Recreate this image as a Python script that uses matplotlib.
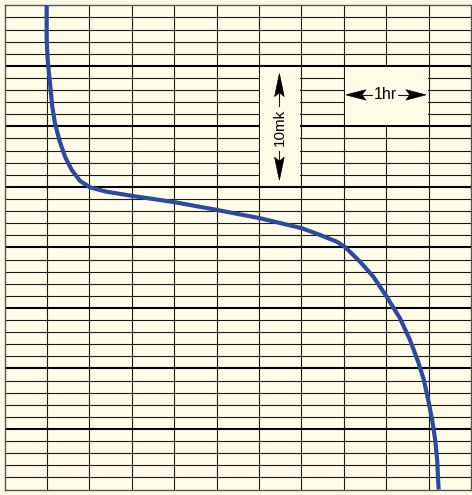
import matplotlib
matplotlib.use("Agg")
import matplotlib.pyplot as plt
from matplotlib.patches import Rectangle, Polygon

# curve: time (hr) vs temperature (mK)
time_hr = [0.495, 0.495, 0.507, 0.522, 0.542, 0.561, 0.593, 0.644, 0.711, 0.790,
           0.888, 1.006, 1.195, 1.498, 2.000, 2.500, 3.011, 3.502, 3.718, 3.915,
           4.013, 4.190, 4.347, 4.505, 4.662, 4.780, 4.877, 4.944, 4.995, 5.042,
           5.078, 5.101, 5.118]
temp_mk = [40.0, 37.15, 35.50, 34.40, 33.02, 31.64, 30.26, 28.88, 27.50, 26.40,
           25.50, 24.96, 24.61, 24.26, 23.74, 23.10, 22.41, 21.59, 21.03, 20.48,
           20.04, 18.83, 17.59, 15.93, 14.15, 12.36, 10.54, 9.05, 7.40, 5.74,
           4.09, 2.44, 0.0]

x_max = 5.5   # 11 columns of half an hour
y_max = 40    # 8 major divisions of 5 mK

bg = "#FFFDE8"
ink = "#1a1a1a"
blue = "#2E4A9E"

fig = plt.figure(figsize=(4.72, 4.95), dpi=100, facecolor=bg)
ax = fig.add_axes([4.7/472, 5.5/495, 466.3/472, 484.2/495])
ax.set_facecolor(bg)
ax.set_xlim(0, x_max)
ax.set_ylim(0, y_max)
ax.set_xticks([])
ax.set_yticks([])
for s in ax.spines.values():
    s.set_color("#555555")
    s.set_linewidth(1.0)

# chart paper grid
for i in range(1, 11):
    ax.axvline(0.5*i, color=ink, lw=0.8, zorder=1)
for j in range(1, 40):
    if j % 5 == 0:
        ax.axhline(j, color="black", lw=1.5, zorder=1)
    else:
        ax.axhline(j, color=ink, lw=0.8, zorder=1)

# label boxes (blank the grid inside)
ax.add_patch(Rectangle((3.0 + 0.012, 25 + 0.12), 0.5 - 0.024, 10 - 0.24,
                       facecolor=bg, edgecolor="none", zorder=2))
ax.add_patch(Rectangle((4.0 + 0.012, 30 + 0.12), 1.0 - 0.024, 5 - 0.24,
                       facecolor=bg, edgecolor="none", zorder=2))

ax.plot(time_hr, temp_mk, color=blue, lw=3.0, solid_joinstyle="round",
        solid_capstyle="butt", zorder=3)

fig.canvas.draw()


def stealth(tip, direction, length=22, half=5, notch=4):
    # arrow head drawn in pixel space
    tx, ty = ax.transData.transform(tip)
    dx, dy = direction
    px, py = -dy, dx
    bx, by = tx - dx*length, ty - dy*length
    nx, ny = tx - dx*(length - notch), ty - dy*(length - notch)
    pts = [(tx, ty), (bx + px*half, by + py*half), (nx, ny),
           (bx - px*half, by - py*half)]
    ax.add_patch(Polygon(pts, closed=True, transform=None, facecolor="black",
                         edgecolor="black", lw=0.5, zorder=5))


def shaft(p0, p1):
    ax.plot([p0[0], p1[0]], [p0[1], p1[1]], color=ink, lw=0.8, zorder=4)


# 10mk marker
xm = 3.24
ax.text(xm, 29.9, "10mk", rotation=90, ha="center", va="center",
        fontsize=11, family=["Liberation Sans", "DejaVu Sans"], zorder=5)
shaft((xm, 31.7), (xm, 33.0))
stealth((xm, 34.36), (0, 1), length=23, half=4.8)
shaft((xm, 28.0), (xm, 27.0))
stealth((xm, 25.55), (0, -1), length=23, half=4.8)

# 1hr marker
ym = 32.6
ax.text(4.487, ym, "1hr", ha="center", va="center",
        fontsize=11.5, family=["Liberation Sans", "DejaVu Sans"], zorder=5)
shaft((4.33, ym), (4.2, ym))
stealth((4.025, ym), (-1, 0), length=20, half=5.2)
shaft((4.64, ym), (4.77, ym))
stealth((4.968, ym), (1, 0), length=20, half=5.2)

fig.savefig("out.png", dpi=100, facecolor=bg)
